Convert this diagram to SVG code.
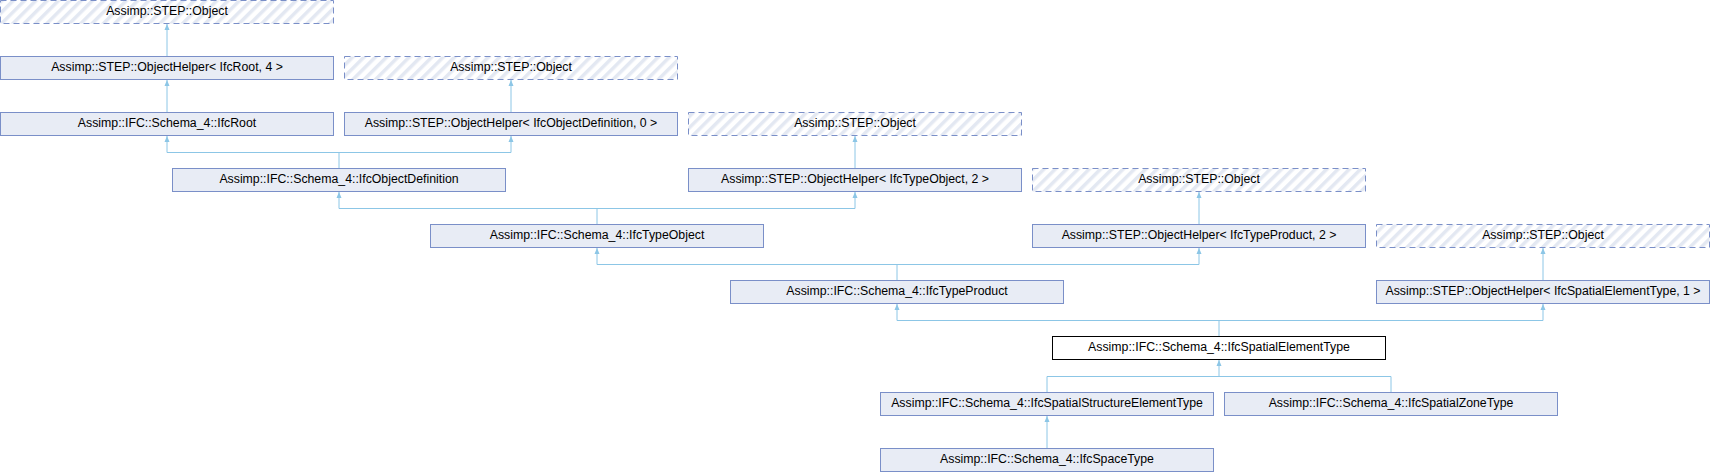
<svg xmlns="http://www.w3.org/2000/svg" width="1710" height="472" viewBox="0 0 1710 472">
<style>
.box{fill:#e8ecf5;stroke:#7a8fc8;stroke-width:1}
.ext{fill:url(#hatch);stroke:#7a8fc8;stroke-width:1;stroke-dasharray:6 4}
.cur{fill:#ffffff;stroke:#000000;stroke-width:1}
.lbl{font-family:"Liberation Sans",Arial,sans-serif;font-size:12.3px;fill:#000;text-anchor:middle}
.edge{fill:none;stroke:#8cc6e6;stroke-width:1}
</style>
<defs>
<pattern id="hatch" patternUnits="userSpaceOnUse" width="8" height="8" patternTransform="rotate(45)">
<rect width="8" height="8" fill="#ffffff"/>
<rect x="0" y="0" width="3.5" height="8" fill="#e3e8f2"/>
</pattern>
<marker id="arr" viewBox="0 0 6 6" refX="6" refY="3" markerWidth="6" markerHeight="6" markerUnits="userSpaceOnUse" orient="auto">
<path d="M0,0.5 L6,3 L0,5.5 z" fill="#8cc6e6"/>
</marker>
</defs>
<g id="connectors">
<path class="edge" d="M167 56.5 V24" marker-end="url(#arr)"/>
<path class="edge" d="M167 112.5 V80" marker-end="url(#arr)"/>
<path class="edge" d="M511 112.5 V80" marker-end="url(#arr)"/>
<path class="edge" d="M339 168.5 V152.5 M167 152.5 H511"/>
<path class="edge" d="M167 152.5 V136" marker-end="url(#arr)"/>
<path class="edge" d="M511 152.5 V136" marker-end="url(#arr)"/>
<path class="edge" d="M855 168.5 V136" marker-end="url(#arr)"/>
<path class="edge" d="M597 224.5 V208.5 M339 208.5 H855"/>
<path class="edge" d="M339 208.5 V192" marker-end="url(#arr)"/>
<path class="edge" d="M855 208.5 V192" marker-end="url(#arr)"/>
<path class="edge" d="M1199 224.5 V192" marker-end="url(#arr)"/>
<path class="edge" d="M897 280.5 V264.5 M597 264.5 H1199"/>
<path class="edge" d="M597 264.5 V248" marker-end="url(#arr)"/>
<path class="edge" d="M1199 264.5 V248" marker-end="url(#arr)"/>
<path class="edge" d="M1543 280.5 V248" marker-end="url(#arr)"/>
<path class="edge" d="M1219 336.5 V320.5 M897 320.5 H1543"/>
<path class="edge" d="M897 320.5 V304" marker-end="url(#arr)"/>
<path class="edge" d="M1543 320.5 V304" marker-end="url(#arr)"/>
<path class="edge" d="M1047 392.5 V376.5 H1391 V392.5"/>
<path class="edge" d="M1219 376.5 V360" marker-end="url(#arr)"/>
<path class="edge" d="M1047 448.5 V416" marker-end="url(#arr)"/>
</g>
<g id="n_obj0"><rect class="ext" x="0.5" y="0.5" width="333" height="23"/><text class="lbl" x="167" y="15">Assimp::STEP::Object</text></g>
<g id="n_helper_root"><rect class="box" x="0.5" y="56.5" width="333" height="23"/><text class="lbl" x="167" y="71">Assimp::STEP::ObjectHelper&lt; IfcRoot, 4 &gt;</text></g>
<g id="n_obj1"><rect class="ext" x="344.5" y="56.5" width="333" height="23"/><text class="lbl" x="511" y="71">Assimp::STEP::Object</text></g>
<g id="n_root"><rect class="box" x="0.5" y="112.5" width="333" height="23"/><text class="lbl" x="167" y="127">Assimp::IFC::Schema_4::IfcRoot</text></g>
<g id="n_helper_objdef"><rect class="box" x="344.5" y="112.5" width="333" height="23"/><text class="lbl" x="511" y="127">Assimp::STEP::ObjectHelper&lt; IfcObjectDefinition, 0 &gt;</text></g>
<g id="n_obj2"><rect class="ext" x="688.5" y="112.5" width="333" height="23"/><text class="lbl" x="855" y="127">Assimp::STEP::Object</text></g>
<g id="n_objdef"><rect class="box" x="172.5" y="168.5" width="333" height="23"/><text class="lbl" x="339" y="183">Assimp::IFC::Schema_4::IfcObjectDefinition</text></g>
<g id="n_helper_typeobj"><rect class="box" x="688.5" y="168.5" width="333" height="23"/><text class="lbl" x="855" y="183">Assimp::STEP::ObjectHelper&lt; IfcTypeObject, 2 &gt;</text></g>
<g id="n_obj3"><rect class="ext" x="1032.5" y="168.5" width="333" height="23"/><text class="lbl" x="1199" y="183">Assimp::STEP::Object</text></g>
<g id="n_typeobj"><rect class="box" x="430.5" y="224.5" width="333" height="23"/><text class="lbl" x="597" y="239">Assimp::IFC::Schema_4::IfcTypeObject</text></g>
<g id="n_helper_typeprod"><rect class="box" x="1032.5" y="224.5" width="333" height="23"/><text class="lbl" x="1199" y="239">Assimp::STEP::ObjectHelper&lt; IfcTypeProduct, 2 &gt;</text></g>
<g id="n_obj4"><rect class="ext" x="1376.5" y="224.5" width="333" height="23"/><text class="lbl" x="1543" y="239">Assimp::STEP::Object</text></g>
<g id="n_typeprod"><rect class="box" x="730.5" y="280.5" width="333" height="23"/><text class="lbl" x="897" y="295">Assimp::IFC::Schema_4::IfcTypeProduct</text></g>
<g id="n_helper_spatial"><rect class="box" x="1376.5" y="280.5" width="333" height="23"/><text class="lbl" x="1543" y="295">Assimp::STEP::ObjectHelper&lt; IfcSpatialElementType, 1 &gt;</text></g>
<g id="n_spatial"><rect class="cur" x="1052.5" y="336.5" width="333" height="23"/><text class="lbl" x="1219" y="351">Assimp::IFC::Schema_4::IfcSpatialElementType</text></g>
<g id="n_struct"><rect class="box" x="880.5" y="392.5" width="333" height="23"/><text class="lbl" x="1047" y="407">Assimp::IFC::Schema_4::IfcSpatialStructureElementType</text></g>
<g id="n_zone"><rect class="box" x="1224.5" y="392.5" width="333" height="23"/><text class="lbl" x="1391" y="407">Assimp::IFC::Schema_4::IfcSpatialZoneType</text></g>
<g id="n_space"><rect class="box" x="880.5" y="448.5" width="333" height="23"/><text class="lbl" x="1047" y="463">Assimp::IFC::Schema_4::IfcSpaceType</text></g>
</svg>
